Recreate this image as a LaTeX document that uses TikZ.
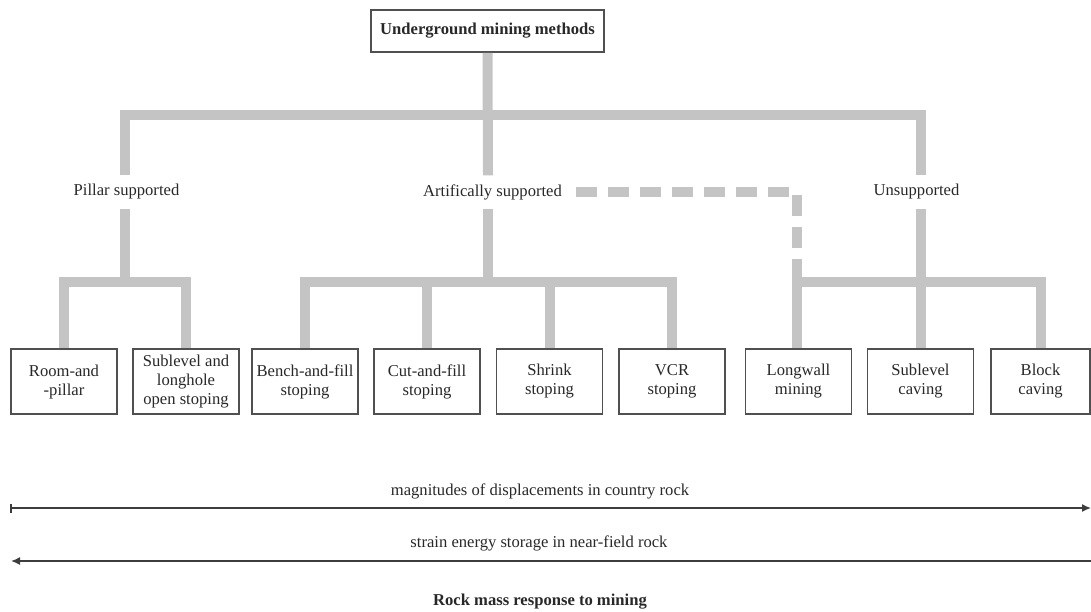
\documentclass[tikz,border=0pt]{standalone}
\usepackage{fontspec}
\setmainfont{Liberation Serif}
\usetikzlibrary{arrows.meta}
\definecolor{conngray}{HTML}{C4C4C4}
\definecolor{boxline}{HTML}{505050}
\definecolor{txtcol}{HTML}{282828}
\begin{document}
\begin{tikzpicture}[x=1pt,y=-1pt,
  every node/.style={text=txtcol,font=\fontsize{16.6}{19}\selectfont},
  methbox/.style={draw=boxline,line width=1.4pt,fill=white,minimum width=106pt,minimum height=65pt,align=center,inner sep=1pt},
  titlebox/.style={draw=boxline,line width=1.6pt,fill=white,minimum width=233pt,minimum height=42pt,inner sep=2pt,font=\fontsize{16.6}{19}\selectfont\bfseries},
  grplabel/.style={inner sep=0pt,outer ysep=9pt},
  conn/.style={draw=conngray,line width=10pt,line join=miter},
  dconn/.style={conn,dash pattern=on 21pt off 11pt},
  scaleline/.style={draw=txtcol!90,line width=1.5pt}
]
\useasboundingbox (0,0) rectangle (1091,611);

% title
\node[titlebox] (top) at (487.5,31) {Underground mining methods};

% group labels
\node[grplabel] (pillar) at (126.5,192) {Pillar supported};
\node[grplabel] (artif) at (492.5,192) {Artifically supported};
\node[grplabel] (unsup) at (916.5,192) {Unsupported};

% method boxes
\node[methbox] (b1) at (64,381.5) {Room-and\\-pillar};
\node[methbox] (b2) at (186,381.5) {Sublevel and\\longhole\\open stoping};
\node[methbox] (b3) at (305,381.5) {Bench-and-fill\\stoping};
\node[methbox] (b4) at (427,381.5) {Cut-and-fill\\stoping};
\node[methbox] (b5) at (549.5,381.5) {Shrink\\stoping};
\node[methbox] (b6) at (672,381.5) {VCR\\stoping};
\node[methbox] (b7) at (798.5,381.5) {Longwall\\mining};
\node[methbox] (b8) at (920.5,381.5) {Sublevel\\caving};
\node[methbox,minimum width=99pt] (b9) at (1040.5,381.5) {Block\\caving};

% junction coordinates
\coordinate (hub) at (488,115);
\coordinate (ps) at (125,282);
\coordinate (as) at (488,282);
\coordinate (us) at (921,282);
\coordinate (dk) at (797,192);
\coordinate (dend) at (797,260);

% top level
\draw[conn] (top.south) -- (artif.north -| hub);
\draw[conn] (pillar.north -| ps) |- (hub) -| (unsup.north -| us);

% pillar supported
\draw[conn] (pillar.south -| ps) -- (ps);
\draw[conn] (b1.north) |- (ps) -| (b2.north);

% artificially supported
\draw[conn] (artif.south -| as) -- (as);
\draw[conn] (b3.north) |- (as) -| (b6.north);
\draw[conn] (b4.north) -- (b4.north |- as);
\draw[conn] (b5.north) -- (b5.north |- as);

% unsupported
\draw[conn] (unsup.south -| us) -- (b8.north -| us);
\draw[conn] (dend) |- (us) -| (b9.north);
\draw[conn] (dend) -- (b7.north -| dend);

% dashed link
\draw[dconn] ([xshift=14pt]artif.east |- dk) -- (dk) -- (dend);

% bottom scales
\coordinate (l1a) at (10,508);
\coordinate (l1b) at (1091,508);
\coordinate (l2a) at (11,561);
\coordinate (l2b) at (1091,561);
\draw[scaleline,{Bar[width=9pt,line width=2pt]}-{Latex[length=9pt,width=8pt]}] (l1a) -- (l1b);
\draw[scaleline,{Latex[length=9pt,width=8pt]}-] (l2a) -- (l2b);

\node (t1) at (540,491) {magnitudes of displacements in country rock};
\node (t2) at (539,543) {strain energy storage in near-field rock};
\node[font=\fontsize{16.6}{19}\selectfont\bfseries] (t3) at (540,602) {Rock mass response to mining};
\end{tikzpicture}
\end{document}
